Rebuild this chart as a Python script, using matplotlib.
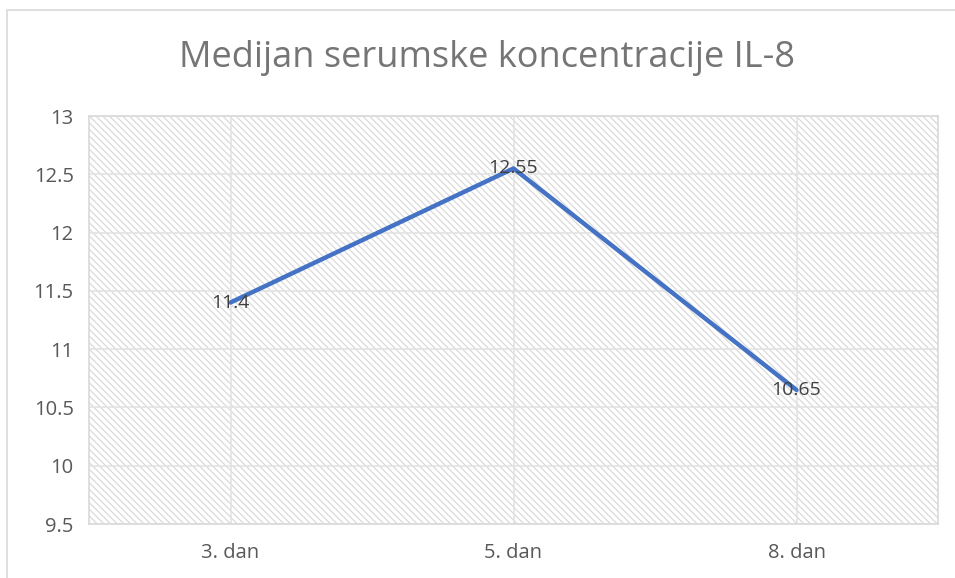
import matplotlib
matplotlib.use("Agg")
import matplotlib.pyplot as plt
from matplotlib.patches import Rectangle

categories = ["3. dan", "5. dan", "8. dan"]
values = [11.4, 12.55, 10.65]
value_labels = ["11.4", "12.55", "10.65"]
yticks = [9.5, 10, 10.5, 11, 11.5, 12, 12.5, 13]
ytick_labels = ["9.5", "10", "10.5", "11", "11.5", "12", "12.5", "13"]
title = "Medijan serumske koncentracije IL-8"

plt.rcParams['font.family'] = ['Open Sans', 'DejaVu Sans']
plt.rcParams['hatch.linewidth'] = 0.9

fig = plt.figure(figsize=(9.55, 5.78), dpi=100)
# outer chart border
fig.patches.append(Rectangle((7/955, -0.1), 1.0, (578-10)/578 + 0.1, transform=fig.transFigure,
                             fill=False, edgecolor='#d9d9d9', linewidth=1.2, zorder=0))

ax = fig.add_axes([89/955, 1-524/578, (938-89)/955, (524-116)/578])
ax.set_facecolor('white')
ax.add_patch(Rectangle((0, 0), 1, 1, transform=ax.transAxes, facecolor='white',
                       edgecolor='#dadada', linewidth=0, hatch='\\\\\\\\\\', zorder=0.5))

x = list(range(len(categories)))
ax.plot(x, values, color='#4472C4', linewidth=3.2, solid_capstyle='round', zorder=3)
for xi, v, lab in zip(x, values, value_labels):
    ax.text(xi, v, lab, ha='center', va='center', fontsize=14, color='#404040', zorder=4)

ax.set_xlim(-0.5, len(categories) - 0.5)
ax.set_ylim(9.5, 13)
ax.set_yticks(yticks)
ax.set_yticklabels(ytick_labels)
ax.set_xticks(x)
ax.set_xticklabels(categories)
ax.tick_params(axis='both', length=0, labelsize=14.5, labelcolor='#595959')
ax.tick_params(axis='y', pad=11)
ax.tick_params(axis='x', pad=14)
ax.grid(True, color='#e3e3e3', linewidth=1.2, zorder=1)
ax.set_axisbelow(True)
for s in ax.spines.values():
    s.set_color('#d9d9d9')
    s.set_linewidth(1.2)

fig.text(487/955, 1-58/578, title, ha='center', va='center', fontsize=26, color='#757575')

fig.savefig('out.png', dpi=100)
